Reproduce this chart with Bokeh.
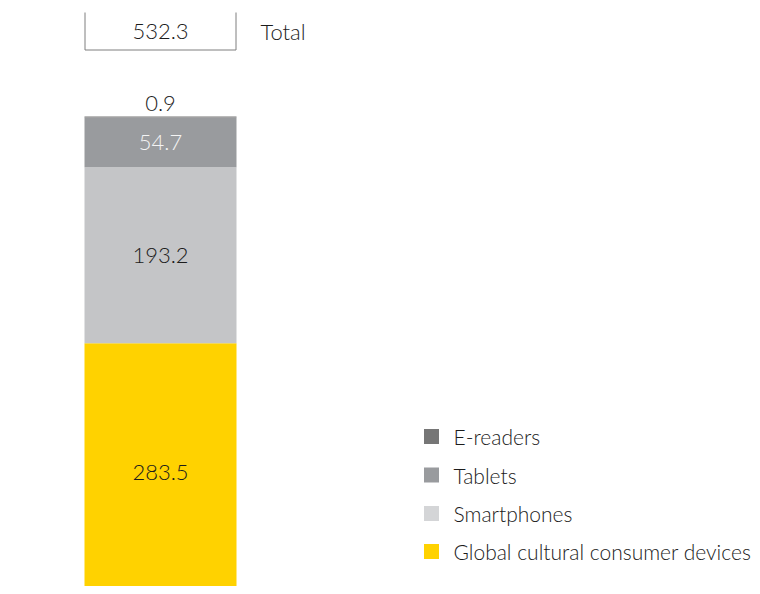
from bokeh.plotting import figure
from bokeh.models import Range1d, ColumnDataSource
from bokeh.embed import file_html
from bokeh.resources import INLINE
from bokeh.core.properties import value

# ---- data ----
categories = ["Global cultural consumer devices", "Smartphones", "Tablets", "E-readers"]
values = [283.5, 193.2, 54.7, 0.9]
value_labels = ["283.5", "193.2", "54.7", "0.9"]
total = 532.3
total_label = "532.3"
total_name = "Total"

# ---- styles ----
bar_colors = ["#FFD200", "#C4C5C7", "#999B9E", "#767676"]
legend_colors = ["#FFD200", "#D4D5D7", "#999B9E", "#767676"]
TXT = "#1C1C1C"
label_colors = [TXT, TXT, "#F4F4F4", TXT]
FONT = value("'Lato Light', Lato")
FS = "22px"
LFS = "21px"

# ---- layout (picture pixels) ----
W, H = 752, 586
PX_PER_UNIT = 0.911
ZERO_PAGE_Y = 601.0
BAR_CX, BAR_W = 160.0, 152.0

def dx(px):
    return (px - BAR_CX) / BAR_W

def dy(py):
    return (ZERO_PAGE_Y - py) / PX_PER_UNIT

p = figure(width=W, height=H, output_backend="svg", toolbar_location=None,
           x_range=Range1d(dx(0), dx(W)), y_range=Range1d(dy(H), dy(0)),
           min_border=0, background_fill_color="white", border_fill_color="white")
p.outline_line_color = None
p.xaxis.visible = False
p.yaxis.visible = False
p.xgrid.visible = False
p.ygrid.visible = False

# stacked bar
bottoms, tops = [], []
acc = 0.0
for v in values:
    bottoms.append(acc)
    acc += v
    tops.append(acc)
src = ColumnDataSource(dict(x=[0.0] * len(values), bottom=bottoms, top=tops, color=bar_colors))
p.vbar(x="x", bottom="bottom", top="top", width=1.0, fill_color="color", line_color=None, source=src)

# segment labels (centered), last one above the bar
lx, ly = [], []
for i, v in enumerate(values):
    lx.append(0.0)
    if i == len(values) - 1:
        ly.append(tops[-1] + (116 - 102.5) / PX_PER_UNIT)
    else:
        ly.append((bottoms[i] + tops[i]) / 2)
lsrc = ColumnDataSource(dict(x=lx, y=ly, t=value_labels, c=label_colors))
p.text(x="x", y="y", text="t", text_color="c", text_font=FONT, text_font_size=FS,
       text_align="center", text_baseline="middle", source=lsrc)

# total box (open on top)
bx0, bx1 = dx(84.5), dx(235.5)
by0, by1 = dy(12), dy(49.5)
p.multi_line(xs=[[bx0, bx0, bx1, bx1]], ys=[[by0, by1, by1, by0]], line_color="#7F7F7F", line_width=1)
p.text(x=[0.0], y=[dy(31)], text=[total_label], text_color=TXT, text_font=FONT,
       text_font_size=FS, text_align="center", text_baseline="middle")
p.text(x=[dx(260)], y=[dy(31)], text=[total_name], text_color=TXT, text_font=FONT,
       text_font_size=FS, text_align="left", text_baseline="middle")

# legend (top to bottom: E-readers ... Global)
leg_rows_y = [436, 474.5, 513, 551]
order = list(reversed(range(len(categories))))
sq_x, sq_y, sq_c, tx_x, tx_t = [], [], [], [], []
for row, i in enumerate(order):
    sq_x.append(dx(431))
    sq_y.append(dy(leg_rows_y[row]))
    sq_c.append(legend_colors[i])
    tx_x.append(dx(453))
    tx_t.append(categories[i])
p.rect(x=sq_x, y=sq_y, width=15, height=15, width_units="screen", height_units="screen",
       fill_color=sq_c, line_color=None)
p.text(x=tx_x, y=sq_y, text=tx_t, text_color=TXT, text_font=FONT, text_font_size=LFS,
       text_align="left", text_baseline="middle")

open("out.html", "w").write(file_html(p, INLINE))
